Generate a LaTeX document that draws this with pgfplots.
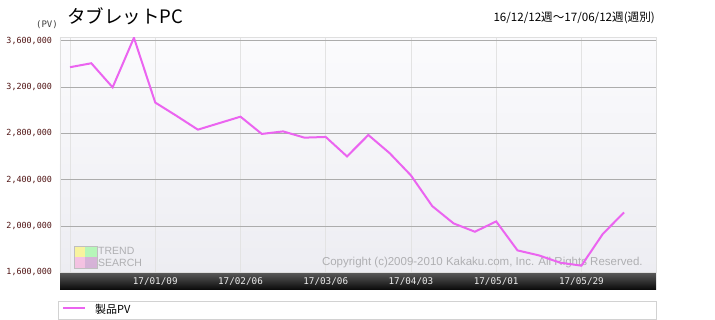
\documentclass[border=0pt]{standalone}
\usepackage{fontspec}
\usepackage{pgfplots}
\pgfplotsset{compat=1.18}
\setmainfont{Liberation Sans}
\newfontfamily\jp{Noto Sans CJK JP}
\newfontfamily\mono{DejaVu Sans Mono}
\definecolor{pvline}{RGB}{235,100,240}
\definecolor{ylab}{RGB}{80,20,20}
\definecolor{bgtop}{RGB}{251,251,253}
\definecolor{bgbot}{RGB}{237,237,242}
\definecolor{wm}{RGB}{175,175,178}
\pgfplotstableread{
x y
0 3371000
1 3405000
2 3197000
3 3625000
4 3066000
5 2951000
6 2832000
7 2888000
8 2944000
9 2795000
10 2817000
11 2763000
12 2769000
13 2601000
14 2786000
15 2629000
16 2437000
17 2172000
18 2023000
19 1951000
20 2040000
21 1790000
22 1747000
23 1684000
24 1658000
25 1931000
26 2118000
}\pvdata
\begin{document}
\begin{tikzpicture}
\useasboundingbox (0pt,0pt) rectangle (715pt,320pt);
% dark band under plot
\shade[top color=black!60, bottom color=black!97] (60pt,30pt) rectangle (656pt,50pt);
% legend box
\draw[gray!35, fill=white] (58pt,1pt) rectangle (656pt,19pt);
\draw[pvline, line width=2pt] (63pt,11.5pt) -- (85pt,11.5pt);
\node[anchor=west, inner sep=0pt, font=\jp\fontsize{11}{12}\selectfont] at (95pt,11pt) {製品PV};
\begin{axis}[
  at={(60pt,47.6pt)}, anchor=south west,
  scale only axis, width=596pt, height=235.2pt,
  xmin=-0.47, xmax=27.5, ymin=1600000, ymax=3630000,
  axis background/.style={top color=bgtop, bottom color=bgbot},
  axis line style={draw=gray!25},
  major tick length=0pt,
  xtick={0,4,...,24},
  xticklabels={{},17/01/09,17/02/06,17/03/06,17/04/03,17/05/01,17/05/29},
  xticklabel style={anchor=center, yshift=-9pt, text=white!92!black, font=\mono\fontsize{9.3}{10}\selectfont},
  ytick={1600000,2000000,...,3600000},
  scaled y ticks=false,
  yticklabel style={font=\mono\fontsize{8.4}{9}\selectfont, text=ylab, xshift=-4.5pt},
  /pgf/number format/.cd, fixed, precision=0, 1000 sep={,}, assume math mode=true,
  /pgfplots/.cd,
  grid=major,
  x grid style={gray!22, line width=0.8pt},
  y grid style={gray!65, line width=0.9pt},
]
% watermark
\fill[yellow!60!white, opacity=0.6] (rel axis cs:0.0235,0.066) rectangle (rel axis cs:0.0425,0.112);
\fill[green!50!white, opacity=0.5] (rel axis cs:0.0425,0.066) rectangle (rel axis cs:0.0621,0.112);
\fill[magenta!35!white, opacity=0.6] (rel axis cs:0.0235,0.019) rectangle (rel axis cs:0.0425,0.066);
\fill[violet!45!white, opacity=0.6] (rel axis cs:0.0425,0.019) rectangle (rel axis cs:0.0621,0.066);
\draw[gray!50, line width=0.6pt] (rel axis cs:0.0235,0.019) rectangle (rel axis cs:0.0621,0.112);
\node[anchor=west, inner sep=0pt, text=wm, font=\fontsize{10.5}{11}\selectfont] at (rel axis cs:0.0638,0.091) {TREND};
\node[anchor=west, inner sep=0pt, text=wm, font=\fontsize{10.5}{11}\selectfont] at (rel axis cs:0.0638,0.040) {SEARCH};
\node[anchor=east, inner sep=0pt, text=wm, font=\fontsize{11.5}{12}\selectfont] at (rel axis cs:0.978,0.044) {Copyright (c)2009-2010 Kakaku.com, Inc. All Rights Reserved.};
\addplot[pvline, line width=2pt] table[x=x, y=y] {\pvdata};
\end{axis}
% titles
\node[anchor=west, inner sep=0pt, font=\jp\fontsize{18.5}{20}\selectfont] at (67pt,304pt) {タブレットPC};
\node[anchor=center, inner sep=0pt, text=black!75, font=\mono\fontsize{9}{10}\selectfont] at (47pt,295.5pt) {(PV)};
\node[anchor=east, inner sep=0pt, font=\jp\fontsize{11.6}{13}\selectfont] at (655pt,302.5pt) {16/12/12週～17/06/12週(週別)};
\end{tikzpicture}
\end{document}
